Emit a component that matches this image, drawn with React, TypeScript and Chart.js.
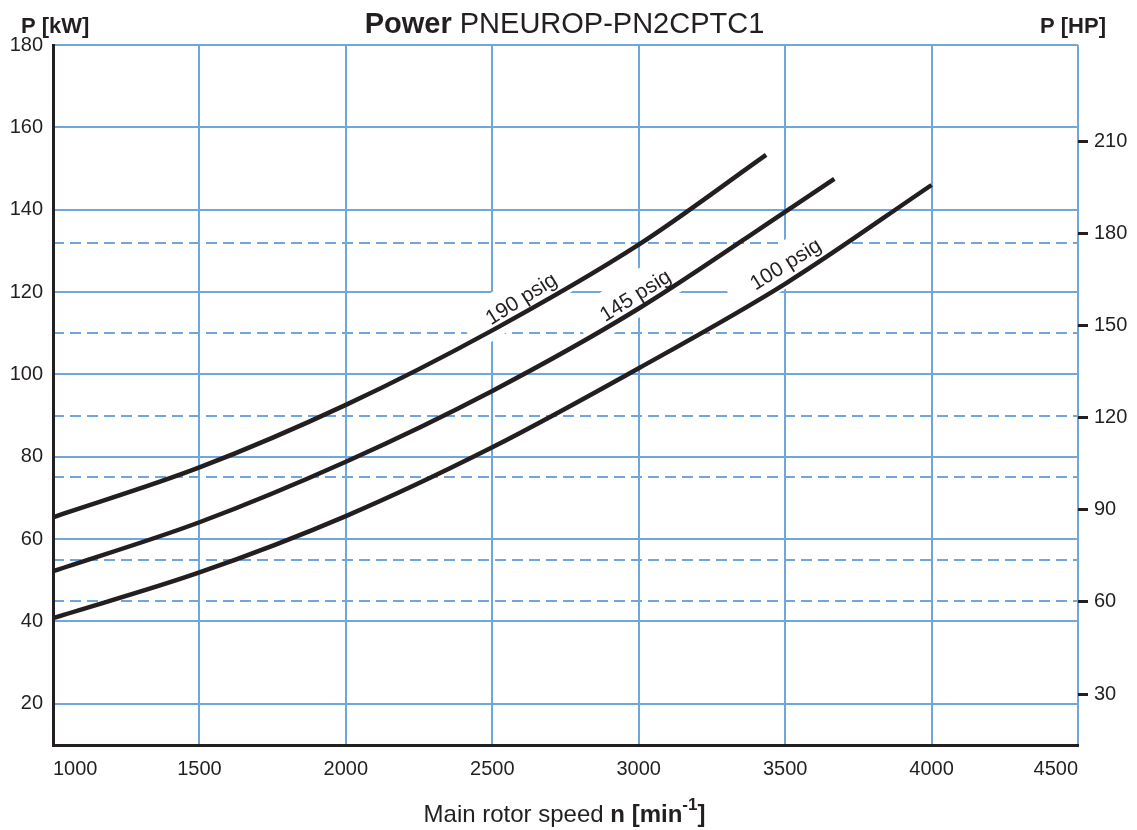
import React, { useEffect, useRef } from "react";
import { Chart, registerables } from "chart.js";

Chart.register(...registerables);

// ---- data ----
const xTicks = [1000, 1500, 2000, 2500, 3000, 3500, 4000, 4500];
const kwTicks = [20, 40, 60, 80, 100, 120, 140, 160, 180];
const hpTicks = [30, 60, 90, 120, 150, 180, 210];
const motorRatingsKw = [45, 55, 75, 90, 110, 132];
const KW_PER_HP = 0.7457;

const seriesLabels = ["190 psig", "145 psig", "100 psig"];
const rpm190 = [1000, 1500, 2000, 2500, 3000, 3435];
const kw190 = [65.3, 77.4, 92.6, 110.7, 131.5, 153.3];
const rpm145 = [1000, 1500, 2000, 2500, 3000, 3500, 3668];
const kw145 = [52.2, 64.1, 78.8, 96.0, 116.0, 139.5, 147.5];
const rpm100 = [1000, 1500, 2000, 2500, 3000, 3500, 4000];
const kw100 = [40.8, 51.9, 65.6, 82.3, 101.5, 122.0, 146.0];

// label anchors (rpm, kW) for the curve names
const labelRpm = [2600, 2990, 3503];
const labelKw = [118.2, 119.0, 126.6];

const titleBold = "Power ";
const titleRegular = "PNEUROP-PN2CPTC1";
const leftUnit = "P [kW]";
const rightUnit = "P [HP]";
const xTitleRegular = "Main rotor speed ";
const xTitleBold = "n [min";
const xTitleSup = "-1";
const xTitleEnd = "]";

// ---- styles ----
const INK = "#231f20";
const GRID = "#6fa6dc";
const FAMILY = '"Liberation Sans", Arial, Helvetica, sans-serif';

const overlayPlugin = {
  id: "overlay",
  beforeDatasetsDraw(chart: any) {
    const { ctx, chartArea: a, scales } = chart;
    const x = scales.x;
    const y = scales.y;
    ctx.save();
    ctx.beginPath();
    ctx.rect(a.left + 2, a.top, a.right - a.left - 2, a.bottom - a.top - 2);
    ctx.clip();
    ctx.strokeStyle = GRID;
    ctx.lineWidth = 2;
    ctx.setLineDash([11, 6]);
    motorRatingsKw.forEach((v) => {
      const py = Math.round(y.getPixelForValue(v));
      ctx.beginPath();
      ctx.moveTo(a.left, py);
      ctx.lineTo(a.right, py);
      ctx.stroke();
    });
    ctx.setLineDash([]);
    ctx.font = `21px ${FAMILY}`;
    seriesLabels.forEach((t, i) => {
      const px = x.getPixelForValue(labelRpm[i]);
      const py = y.getPixelForValue(labelKw[i]);
      ctx.save();
      ctx.translate(px, py);
      ctx.rotate((-32 * Math.PI) / 180);
      ctx.fillStyle = "#ffffff";
      ctx.fillRect(-64, -22, 128, 42);
      ctx.fillStyle = INK;
      ctx.textAlign = "center";
      ctx.textBaseline = "middle";
      ctx.fillText(t, 0, 0);
      ctx.restore();
    });
    ctx.restore();
  },
  afterDraw(chart: any) {
    const { ctx, chartArea: a } = chart;
    const cx = (a.left + a.right) / 2 - 1;
    ctx.save();
    ctx.fillStyle = INK;
    ctx.textBaseline = "alphabetic";
    // title
    const fb = `bold 29px ${FAMILY}`;
    const fr = `29px ${FAMILY}`;
    ctx.font = fb;
    const w1 = ctx.measureText(titleBold).width;
    ctx.font = fr;
    const w2 = ctx.measureText(titleRegular).width;
    let sx = cx - (w1 + w2) / 2;
    ctx.textAlign = "left";
    ctx.font = fb;
    ctx.fillText(titleBold, sx, 33);
    ctx.font = fr;
    ctx.fillText(titleRegular, sx + w1, 33);
    // unit labels
    ctx.font = `bold 22px ${FAMILY}`;
    ctx.textAlign = "left";
    ctx.fillText(leftUnit, 21, 33);
    ctx.textAlign = "right";
    ctx.fillText(rightUnit, 1106, 33);
    // x title
    const fxr = `24px ${FAMILY}`;
    const fxb = `bold 24px ${FAMILY}`;
    const fxs = `bold 17px ${FAMILY}`;
    ctx.textAlign = "left";
    ctx.font = fxr;
    const a1 = ctx.measureText(xTitleRegular).width;
    ctx.font = fxb;
    const a2 = ctx.measureText(xTitleBold).width;
    const a4 = ctx.measureText(xTitleEnd).width;
    ctx.font = fxs;
    const a3 = ctx.measureText(xTitleSup).width;
    const base = 822;
    let tx = cx - (a1 + a2 + a3 + a4) / 2;
    ctx.font = fxr;
    ctx.fillText(xTitleRegular, tx, base);
    tx += a1;
    ctx.font = fxb;
    ctx.fillText(xTitleBold, tx, base);
    tx += a2;
    ctx.font = fxs;
    ctx.fillText(xTitleSup, tx, base - 12);
    tx += a3;
    ctx.font = fxb;
    ctx.fillText(xTitleEnd, tx, base);
    ctx.restore();
  },
};

function toPoints(xs: number[], ys: number[]) {
  return xs.map((v, i) => ({ x: v, y: ys[i] }));
}

export default function App() {
  const ref = useRef<HTMLCanvasElement | null>(null);
  useEffect(() => {
    document.body.style.margin = "0";
    const canvas = ref.current;
    if (!canvas) return;
    const tickFont = { family: FAMILY, size: 20 };
    const lineStyle = {
      borderColor: INK,
      borderWidth: 4.5,
      pointRadius: 0,
      fill: false,
      cubicInterpolationMode: "monotone" as const,
      yAxisID: "y",
    };
    const chart = new Chart(canvas, {
      type: "line",
      data: {
        datasets: [
          { label: seriesLabels[0], data: toPoints(rpm190, kw190), ...lineStyle },
          { label: seriesLabels[1], data: toPoints(rpm145, kw145), ...lineStyle },
          { label: seriesLabels[2], data: toPoints(rpm100, kw100), ...lineStyle },
        ],
      },
      options: {
        animation: false,
        responsive: false,
        devicePixelRatio: 1,
        layout: { padding: { top: 45, left: 0, right: 0, bottom: 0 } },
        plugins: {
          legend: { display: false },
          tooltip: { enabled: false },
          title: { display: false },
        },
        scales: {
          x: {
            type: "linear",
            min: 1000,
            max: 4500,
            afterBuildTicks: (s: any) => {
              s.ticks = xTicks.map((v) => ({ value: v }));
            },
            afterFit: (s: any) => {
              s.height = 85;
            },
            grid: { color: GRID, lineWidth: 2, drawTicks: false },
            border: { color: INK, width: 3 },
            ticks: {
              align: "inner",
              padding: 12,
              font: tickFont,
              color: INK,
              maxRotation: 0,
              autoSkip: false,
              callback: (v: any) => String(v),
            },
          },
          y: {
            position: "left",
            min: 10,
            max: 180,
            afterBuildTicks: (s: any) => {
              s.ticks = kwTicks.map((v) => ({ value: v }));
            },
            afterFit: (s: any) => {
              s.width = 53;
            },
            grid: { color: GRID, lineWidth: 2, drawTicks: false },
            border: { color: INK, width: 3 },
            ticks: { padding: 10, font: tickFont, color: INK, callback: (v: any) => String(v) },
          },
          y2: {
            position: "right",
            min: 10 / KW_PER_HP,
            max: 180 / KW_PER_HP,
            afterBuildTicks: (s: any) => {
              s.ticks = hpTicks.map((v) => ({ value: v }));
            },
            afterFit: (s: any) => {
              s.width = 59;
            },
            grid: {
              drawOnChartArea: false,
              drawTicks: true,
              tickLength: 10,
              tickColor: INK,
              tickWidth: 3,
            },
            border: { display: false },
            ticks: { padding: 6, font: tickFont, color: INK, callback: (v: any) => String(v) },
          },
        },
      } as any,
      plugins: [overlayPlugin],
    });
    return () => chart.destroy();
  }, []);
  return (
    <canvas
      ref={ref}
      width={1137}
      height={830}
      style={{ display: "block", width: 1137, height: 830 }}
    />
  );
}
